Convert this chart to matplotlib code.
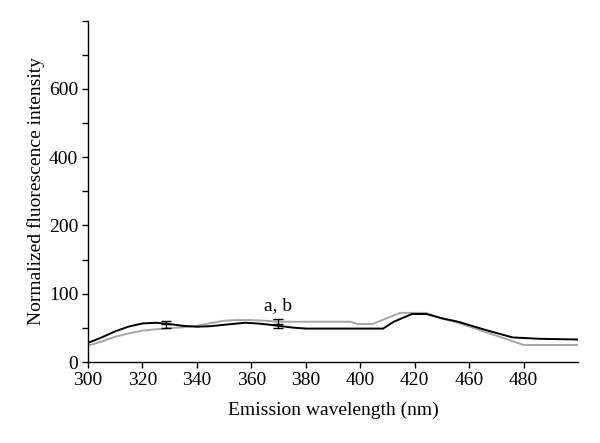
import numpy as np
import matplotlib
matplotlib.use("Agg")
import matplotlib.pyplot as plt
from matplotlib.ticker import FixedLocator, NullFormatter, FixedFormatter

plt.rcParams['font.family'] = ['Liberation Serif', 'DejaVu Serif']

# Data (x in axis position units, as labelled)
wl_black = [300, 305, 310, 315, 320, 325, 330, 335, 340, 345, 350, 355, 358, 362, 366, 370, 375, 380,
            390, 400, 408.4, 412.3, 419, 424.4, 430, 436, 446, 456, 466, 480]
int_black = [28, 36, 45, 52, 56.5, 57.5, 55.5, 53, 51.7, 52.5, 54.5, 56.5, 57.5, 56.5, 55, 53, 50.5, 49,
             49, 49, 49, 59, 70.3, 70.3, 64, 59, 47, 36, 34, 33]

wl_gray = [300, 305, 310, 315, 320, 325, 330, 335, 340, 345, 350, 355, 360, 365, 370, 380, 390, 396.4,
           399, 404.4, 414.7, 424, 430, 436, 446, 460, 480]
int_gray = [24, 30, 37, 42, 46, 48, 49.5, 51, 53, 57, 60.5, 61.5, 61.5, 60.5, 59, 59, 59, 59,
            55.6, 55.6, 72, 72, 64, 57.5, 44, 25, 25]

err_x = [328.8, 369.8]
err_y = [55.5, 56.3]
err_e = [5.0, 6.0]

annot_text = "a, b"
annot_x, annot_y = 369.8, 82

xtick_pos = [300, 320, 340, 360, 380, 400, 420, 440, 460]
xtick_labels = ["300", "320", "340", "360", "380", "400", "420", "460", "480"]
ytick_major = [0, 100, 200, 400, 600]
ytick_minor = [50, 150, 300, 500, 700, 800]

# piecewise-linear y scale
ys_val = np.array([0, 100, 200, 400, 600, 800], dtype=float)
ys_pos = np.array([0, 1, 2, 3, 4, 5], dtype=float)

def fwd(v):
    v = np.asarray(v, dtype=float)
    out = np.interp(v, ys_val, ys_pos)
    out = np.where(v < 0, v / 100.0, out)
    out = np.where(v > 800, 5 + (v - 800) / 200.0, out)
    return out

def inv(p):
    p = np.asarray(p, dtype=float)
    out = np.interp(p, ys_pos, ys_val)
    out = np.where(p < 0, p * 100.0, out)
    out = np.where(p > 5, 800 + (p - 5) * 200.0, out)
    return out

fig = plt.figure(figsize=(6.0, 4.43), dpi=100)
ax = fig.add_axes([0.1467, 0.1828, 0.8166, 0.7705])
ax.set_yscale('function', functions=(fwd, inv))

ax.plot(wl_gray, int_gray, color='#a6a6a6', lw=1.4, zorder=2)
ax.plot(wl_black, int_black, color='black', lw=1.4, zorder=3)
ax.errorbar(err_x, err_y, yerr=err_e, fmt='none', ecolor='black', elinewidth=1.0,
            capsize=3.5, capthick=1.0, zorder=4)
ax.plot(err_x, err_y, linestyle='none', marker='_', markersize=7, color='black', zorder=4)
ax.text(annot_x, annot_y, annot_text, ha='center', va='center', fontsize=14)

ax.set_xlim(300, 480)
ax.set_ylim(0, 800)
ax.xaxis.set_major_locator(FixedLocator(xtick_pos))
ax.xaxis.set_major_formatter(FixedFormatter(xtick_labels))
ax.yaxis.set_major_locator(FixedLocator(ytick_major))
ax.yaxis.set_major_formatter(FixedFormatter([str(v) for v in ytick_major]))
ax.yaxis.set_minor_locator(FixedLocator(ytick_minor))
ax.yaxis.set_minor_formatter(NullFormatter())

for s in ['top', 'right']:
    ax.spines[s].set_visible(False)
for s in ['left', 'bottom']:
    ax.spines[s].set_linewidth(1.0)

ax.tick_params(axis='both', which='both', direction='out', length=4, width=1.0,
               labelsize=14, pad=3)
ax.set_xlabel("Emission wavelength (nm)", fontsize=14, labelpad=9)
ax.set_ylabel("Normalized fluorescence intensity", fontsize=14, labelpad=3)

fig.savefig("out.png", dpi=100)
